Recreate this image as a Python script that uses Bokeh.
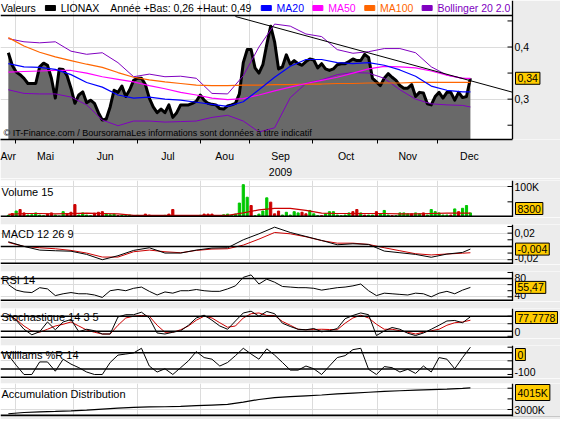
from bokeh.plotting import figure
from bokeh.models import Range1d, LinearAxis, FixedTicker, Grid, Span, Label, BoxAnnotation
from bokeh.layouts import column
from bokeh.embed import file_html
from bokeh.resources import INLINE

# ---------------- data ----------------
months = ["Avr", "Mai", "Jun", "Jul", "Aou", "Sep", "Oct", "Nov", "Dec"]
month_label_pos = [0, 9.5, 24.75, 40.75, 55.25, 69.5, 86.25, 102, 117.75]
month_tick_pos = [1.75, 16.75, 33, 49, 61.5, 77.75, 94.25, 109.5]
year_label = "2009"
ticker_name = "LIONAX"
year_low = 0.26
year_high = 0.49

# closing price (one value every sample step)
price = [0.389, 0.365, 0.352, 0.347, 0.340, 0.330, 0.330, 0.330, 0.362, 0.369,
         0.365, 0.340, 0.302, 0.358, 0.357, 0.345, 0.321, 0.292, 0.308, 0.314,
         0.293, 0.298, 0.292, 0.274, 0.260, 0.262, 0.285, 0.317, 0.313, 0.325,
         0.305, 0.318, 0.336, 0.340, 0.340, 0.328, 0.302, 0.285, 0.274, 0.281,
         0.274, 0.289, 0.265, 0.274, 0.289, 0.289, 0.289, 0.292, 0.296, 0.308,
         0.298, 0.292, 0.290, 0.289, 0.282, 0.281, 0.287, 0.289, 0.292, 0.310,
         0.370, 0.395, 0.395, 0.360, 0.350, 0.366, 0.405, 0.440, 0.410, 0.358,
         0.362, 0.385, 0.367, 0.374, 0.368, 0.365, 0.372, 0.377, 0.375, 0.360,
         0.368, 0.358, 0.355, 0.358, 0.366, 0.368, 0.368, 0.372, 0.377, 0.374,
         0.374, 0.386, 0.380, 0.340, 0.333, 0.326, 0.340, 0.349, 0.342, 0.336,
         0.326, 0.321, 0.321, 0.328, 0.305, 0.313, 0.312, 0.291, 0.289, 0.305,
         0.313, 0.302, 0.313, 0.313, 0.298, 0.313, 0.303, 0.305, 0.340]

# smooth lines, read every 4th sample (plus the last one)
ma20 = [0.368, 0.362, 0.361, 0.357, 0.347, 0.332, 0.323, 0.308, 0.302, 0.304,
        0.300, 0.298, 0.294, 0.290, 0.286, 0.295, 0.318, 0.342, 0.363, 0.376,
        0.376, 0.370, 0.368, 0.370, 0.365, 0.356, 0.344, 0.325, 0.317, 0.314, 0.314]
ma50 = [0.352, 0.353, 0.354, 0.355, 0.355, 0.350, 0.343, 0.338, 0.333, 0.326,
        0.320, 0.313, 0.308, 0.302, 0.299, 0.301, 0.308, 0.316, 0.323, 0.330,
        0.336, 0.342, 0.350, 0.358, 0.363, 0.362, 0.360, 0.354, 0.346, 0.340, 0.340]
ma100 = [0.418, 0.402, 0.390, 0.381, 0.374, 0.367, 0.361, 0.351, 0.342, 0.337,
         0.333, 0.330, 0.327, 0.326, 0.326, 0.327, 0.327, 0.328, 0.328, 0.329,
         0.329, 0.330, 0.330, 0.331, 0.331, 0.331, 0.332, 0.332, 0.332, 0.332, 0.332]
boll_up = [0.416, 0.410, 0.408, 0.410, 0.392, 0.386, 0.389, 0.370, 0.343, 0.348,
           0.343, 0.344, 0.340, 0.311, 0.310, 0.345, 0.400, 0.444, 0.440, 0.425,
           0.420, 0.395, 0.388, 0.391, 0.397, 0.397, 0.389, 0.362, 0.346, 0.340, 0.339]
boll_lo = [0.318, 0.311, 0.310, 0.310, 0.304, 0.289, 0.260, 0.249, 0.258, 0.258,
           0.256, 0.257, 0.258, 0.265, 0.269, 0.258, 0.237, 0.245, 0.303, 0.330,
           0.337, 0.347, 0.351, 0.350, 0.340, 0.318, 0.300, 0.291, 0.289, 0.288, 0.285]
trend_x = [58.0, 128.75]
trend_y = [0.4585, 0.3133]

volume_k = [6, 12, 20, 25, 14, 7, 8, 14, 7, 5,
            10, 14, 7, 4, 18, 10, 16, 41, 7, 14,
            7, 5, 13, 16, 18, 11, 8, 10, 5, 6,
            5, 7, 5, 6, 5, 10, 7, 5, 5, 5,
            6, 10, 25, 5, 5, 5, 5, 5, 5, 6,
            10, 10, 10, 5, 5, 8, 10, 6, 10, 46,
            106, 65, 38, 5, 10, 20, 63, 49, 11, 20,
            7, 16, 7, 18, 14, 16, 11, 22, 11, 5,
            5, 11, 18, 18, 7, 5, 7, 14, 18, 25,
            14, 7, 7, 7, 18, 11, 22, 7, 5, 5,
            14, 14, 11, 11, 14, 11, 14, 7, 25, 18,
            14, 7, 7, 7, 27, 18, 29, 38, 14]
volume_up = [1, 0, 1, 0, 0, 1, 1, 1, 1, 1,
             0, 0, 1, 1, 1, 0, 0, 0, 1, 1,
             1, 1, 0, 0, 0, 1, 1, 1, 0, 1,
             1, 1, 1, 1, 1, 0, 0, 1, 1, 1,
             1, 0, 0, 1, 1, 1, 1, 1, 1, 1,
             0, 0, 0, 1, 1, 1, 1, 1, 1, 1,
             1, 1, 0, 1, 1, 1, 1, 0, 0, 0,
             1, 1, 1, 1, 1, 0, 0, 1, 1, 1,
             0, 1, 1, 1, 1, 1, 1, 1, 0, 0,
             1, 0, 1, 1, 0, 1, 1, 1, 0, 1,
             1, 1, 1, 0, 1, 1, 0, 1, 1, 1,
             1, 1, 1, 0, 1, 0, 1, 1, 1]
volume_ma_k = [9, 12, 12, 11, 12, 13, 12, 11, 6, 6, 6, 6, 6, 6, 6, 14,
               24, 29, 29, 22, 13, 12, 12, 12, 12, 11, 11, 12, 13, 13, 13]
last_volume = 8300

macd = [0.007, 0.000, -0.0055, -0.0065, -0.0072, -0.012, -0.020, -0.014, -0.006, -0.002,
        -0.010, -0.010, -0.0055, -0.0025, -0.002, 0.010, 0.019, 0.029, 0.021, 0.015,
        0.009, 0.0025, 0.004, 0.003, -0.007, -0.0095, -0.012, -0.0163, -0.0115, -0.009, -0.004]
macd_signal = [0.006, 0.000, -0.002, -0.0035, -0.006, -0.010, -0.016, -0.016, -0.008, -0.0055,
               -0.008, -0.0095, -0.006, -0.004, -0.0035, 0.002, 0.011, 0.021, 0.019, 0.0145,
               0.0088, 0.0049, 0.0049, 0.003, -0.002, -0.0065, -0.011, -0.0128, -0.0114, -0.0102, -0.0095]

# oscillators, read every 2nd sample
rsi = [60, 51, 48, 47, 55, 53, 42, 45, 47, 45,
       45, 43, 39, 50, 52, 50, 54, 56, 49, 43,
       48, 46, 50, 50, 52, 50, 49, 49, 53, 58,
       72, 76, 61, 69, 64, 57, 56, 55, 55, 54,
       51, 53, 55, 56, 58, 61, 50, 42, 46, 45,
       44, 43, 46, 45, 40, 46, 49, 45, 51, 55.47]
stoch_k = [86, 64, 28, 6, 18, 57, 26, 57, 67, 18,
           28, 22, 9, 9, 77, 86, 86, 96, 73, 13,
           9, 16, 22, 44, 73, 84, 64, 41, 28, 61,
           93, 100, 80, 99, 90, 52, 39, 28, 26, 31,
           18, 22, 31, 70, 83, 93, 86, 3, 21, 35,
           28, 12, 3, 13, 28, 44, 61, 63, 54, 77.7778]
stoch_d = [86, 67, 41, 21, 16, 28, 41, 48, 57, 41,
           25, 16, 9, 9, 44, 73, 80, 83, 80, 44,
           16, 16, 26, 41, 64, 80, 73, 54, 36, 41,
           73, 90, 93, 83, 83, 59, 44, 28, 26, 27,
           28, 27, 26, 52, 73, 84, 73, 48, 28, 28,
           22, 16, 9, 16, 22, 28, 44, 54, 57, 64]
williams = [-29, -66, -100, -100, -54, -54, -88, -44, -62, -75,
            -91, -100, -100, -56, -29, -25, -21, -4, -69, -91,
            -79, -100, -75, -50, -16, -38, -44, -69, -56, -31,
            -4, -25, -44, -6, -29, -56, -84, -84, -69, -79,
            -100, -69, -38, -31, -9, -4, -81, -100, -71, -75,
            -91, -81, -96, -69, -91, -38, -44, -79, -38, 0]
accdist_k = [2800, 2860, 2890, 2910, 2940, 2975, 3020, 3060, 3100, 3120,
             3130, 3145, 3180, 3210, 3240, 3350, 3470, 3560, 3600, 3640,
             3680, 3730, 3770, 3810, 3850, 3880, 3910, 3935, 3960, 3990, 4015]

day = list(range(len(price)))
day4 = list(range(0, len(price), 4)) + [len(price) - 1]
day2 = list(range(0, len(price), 2))

# ---------------- styling / layout ----------------
GRAY = "#ECECEC"
GRIDC = "#DCDCDC"
FONT = "Liberation Sans"
BLUE, MAGENTA, ORANGE, PURPLE = "#0000FF", "#FF00FF", "#FF6600", "#8000C0"
RED, GREEN = "#CC0000", "#00C800"
FRAME_W = 512          # data area width
RIGHT_W = 48           # value-scale strip on the right
XS, XE = -2.0, 128.75  # data x-range of the plotting area
UPX = (XE - XS) / FRAME_W
XE2 = XE + RIGHT_W * UPX
xr = Range1d(XS, XE2)


def fmt(v):
    return f"{v:g}".replace(".", ",")


def base_fig(frame_h, y0, y1, top=0, bottom=0):
    p = figure(frame_width=FRAME_W + RIGHT_W, frame_height=frame_h, x_range=xr,
               y_range=Range1d(y0, y1), output_backend="svg", toolbar_location=None,
               x_axis_location=None, y_axis_location=None,
               min_border_left=0, min_border_right=0,
               min_border_top=top, min_border_bottom=bottom,
               background_fill_color="white", border_fill_color=GRAY,
               outline_line_color=None)
    p.xgrid.visible = False
    p.ygrid.visible = False
    p.add_layout(Grid(dimension=0, ticker=FixedTicker(ticks=month_tick_pos),
                      grid_line_color=GRIDC))
    return p


def clamp(p, v, frame_h, half_px):
    y0, y1 = p.y_range.start, p.y_range.end
    half = half_px * (y1 - y0) / frame_h
    return min(max(v, y0 + half), y1 - half)


def right_scale(p, frame_h, major, minor, labels=None):
    """Value scale on the right edge of the data area."""
    if labels is None:
        labels = {v: fmt(v) for v in major}
    p.add_layout(BoxAnnotation(left=XE, fill_color=GRAY, fill_alpha=1.0, line_color=None))
    p.add_layout(Span(location=XE, dimension="height", line_color="black", line_width=1.3))
    ticks = list(major) + list(minor)
    p.segment(x0=[XE - 5 * UPX] * len(ticks), x1=[XE] * len(ticks), y0=ticks, y1=ticks,
              line_color="black", line_width=1)
    for v in major:
        p.add_layout(Label(x=XE, y=clamp(p, v, frame_h, 6.5), x_offset=2, text=labels[v],
                           text_baseline="middle", text_align="left", text_font=FONT,
                           text_font_size="10.5px", text_color="black"))


def hgrid(p, ticks):
    p.add_layout(Grid(dimension=1, ticker=FixedTicker(ticks=ticks), grid_line_color=GRIDC))


def hline(p, y, w=1.5):
    p.add_layout(Span(location=y, dimension="width", line_color="black", line_width=w))


def bottom_line(p, frame_h):
    y0, y1 = p.y_range.start, p.y_range.end
    hline(p, y0 + (y1 - y0) / frame_h, 2)


def title(p, text, dy=-3):
    p.add_layout(Label(x=XS, y=p.y_range.end, x_offset=1, y_offset=dy, text=text,
                       text_baseline="top", text_font=FONT, text_font_size="11px",
                       text_color="black"))


def value_box(p, yv, text, frame_h, half_px=9):
    p.add_layout(Label(x=XE, y=clamp(p, yv, frame_h, half_px), x_offset=3, text=text,
                       text_baseline="middle", text_align="left", text_font=FONT,
                       text_font_size="10.5px", text_color="black",
                       background_fill_color="#FFCC00", border_line_color="black",
                       padding=2))


# ---------------- main price panel ----------------
PY0, PY_TOP, PY1 = 0.2226, 0.4604, 0.4892
MAIN_H = 139
p1 = base_fig(MAIN_H, PY0, PY1, top=0, bottom=32)
hgrid(p1, [0.3, 0.4])
p1.varea(x=day, y1=PY0, y2=price, fill_color="#696969")
p1.line(day, price, line_color="black", line_width=3, line_join="round")
p1.line(day4, boll_up, line_color=PURPLE, line_width=1)
p1.line(day4, boll_lo, line_color=PURPLE, line_width=1)
p1.line(day4, ma100, line_color=ORANGE, line_width=1.2)
p1.line(day4, ma50, line_color=MAGENTA, line_width=1.2)
p1.line(day4, ma20, line_color=BLUE, line_width=1.2)
p1.line(trend_x, trend_y, line_color="black", line_width=1)
hline(p1, PY_TOP, 1.5)

xax = LinearAxis(ticker=FixedTicker(ticks=month_label_pos, minor_ticks=month_tick_pos),
                 major_label_overrides=dict(zip(month_label_pos, months)),
                 bounds=(XS, XE),
                 axis_label=year_label, axis_label_standoff=3,
                 axis_label_text_font=FONT, axis_label_text_font_size="10.5px",
                 axis_label_text_font_style="normal", axis_label_text_color="black",
                 major_tick_line_color=None, major_tick_in=0, major_tick_out=0,
                 minor_tick_in=0, minor_tick_out=4, minor_tick_line_color="black",
                 axis_line_color="black", axis_line_width=1.5,
                 major_label_standoff=6, major_label_text_font=FONT,
                 major_label_text_font_size="10.5px", major_label_text_color="black")
p1.add_layout(xax, "below")

# legend row
leg_y = (PY_TOP + PY1) / 2
sc = FRAME_W / 523.0
legend_items = [
    ("Valeurs", "black", 0.5, None),
    (ticker_name, "black", 61.5, "black"),
    (f"Année +Bas: {fmt(year_low)} +Haut: {fmt(year_high)}", "black", 112, None),
    ("MA20", BLUE, 282, BLUE),
    ("MA50", MAGENTA, 334.7, MAGENTA),
    ("MA100", ORANGE, 387.7, ORANGE),
    ("Bollinger 20 2.0", PURPLE, 446.3, PURPLE),
]
rx, rc = [], []
for text, col, off, sw in legend_items:
    p1.add_layout(Label(x=XS, y=leg_y, x_offset=off * sc, text=text, text_baseline="middle",
                        text_font=FONT, text_font_size="10.5px", text_color=col))
    if sw is not None:
        rx.append(XS + (off - 10.5) * sc * UPX)
        rc.append(sw)
p1.rect(x=rx, y=[leg_y] * len(rx), width=10, height=5, width_units="screen",
        height_units="screen", fill_color=rc, line_color=rc)
p1.add_layout(Label(x=XS, y=PY0, x_offset=3, y_offset=2, text_baseline="bottom",
                    text="© IT-Finance.com / BoursoramaLes informations sont données à titre indicatif",
                    text_font=FONT, text_font_size="9px", text_color="black"))
right_scale(p1, MAIN_H, [0.3, 0.4], [0.25, 0.35, 0.45])
value_box(p1, price[-1], f"{price[-1]:.2f}".replace(".", ","), MAIN_H)

# ---------------- volume ----------------
VOL_H = 37
p2 = base_fig(VOL_H, -1000, 119500, top=2)
hgrid(p2, [100000])
p2.vbar(x=day, top=[v * 1000 for v in volume_k], bottom=0, width=0.55,
        fill_color=[GREEN if u else RED for u in volume_up],
        line_color=[GREEN if u else RED for u in volume_up])
p2.line(day4, [v * 1000 for v in volume_ma_k], line_color=RED, line_width=1.2)
bottom_line(p2, VOL_H)
title(p2, "Volume 15", -5)
right_scale(p2, VOL_H, [100000], [50000], {100000: "100K"})
value_box(p2, last_volume, f"{last_volume}", VOL_H)

# ---------------- MACD ----------------
MACD_H = 40
p3 = base_fig(MACD_H, -0.0272, 0.0330, top=7)
hgrid(p3, [-0.02, 0.02])
hline(p3, 0, 1.5)
p3.line(day4, macd_signal, line_color=RED, line_width=1)
p3.line(day4, macd, line_color="black", line_width=1)
bottom_line(p3, MACD_H)
title(p3, "MACD 12 26 9")
right_scale(p3, MACD_H, [-0.02, 0.02], [-0.01, 0, 0.01, 0.03])
value_box(p3, macd[-1], fmt(macd[-1]), MACD_H)

# ---------------- RSI ----------------
RSI_H = 30
p4 = base_fig(RSI_H, 32.3, 81.6, top=7)
hgrid(p4, [40, 60])
hline(p4, 70, 1.5)
p4.line(day2, rsi, line_color="black", line_width=1)
bottom_line(p4, RSI_H)
title(p4, "RSI 14", -2)
right_scale(p4, RSI_H, [40, 80], [50, 60, 70])
value_box(p4, rsi[-1], fmt(rsi[-1]), RSI_H)

# ---------------- Stochastic ----------------
ST_H = 30
p5 = base_fig(ST_H, -8.9, 110.8, top=7)
hgrid(p5, [50])
hline(p5, 80, 1.5)
hline(p5, 20, 1.5)
p5.line(day2, stoch_d, line_color=RED, line_width=1)
p5.line(day2, stoch_k, line_color="black", line_width=1)
bottom_line(p5, ST_H)
title(p5, "Stochastique 14 3 5", -2)
right_scale(p5, ST_H, [0], [50, 80])
value_box(p5, stoch_k[-1], fmt(stoch_k[-1]), ST_H)

# ---------------- Williams %R ----------------
WR_H = 33
p6 = base_fig(WR_H, -114.7, 6.2, top=7)
hgrid(p6, [-50])
hline(p6, -20, 1.5)
hline(p6, -80, 1.5)
p6.line(day2, williams, line_color="black", line_width=1)
bottom_line(p6, WR_H)
title(p6, "Williams %R 14", -3)
right_scale(p6, WR_H, [-100], [-50, 0])
value_box(p6, williams[-1], fmt(williams[-1]), WR_H)

# ---------------- Accumulation Distribution ----------------
AD_H = 33
p7 = base_fig(AD_H, 2671400, 4220700, top=5, bottom=3)
hgrid(p7, [3000000, 4000000])
p7.line(day4, [v * 1000 for v in accdist_k], line_color="black", line_width=1.2)
bottom_line(p7, AD_H)
title(p7, "Accumulation Distribution", -4)
right_scale(p7, AD_H, [3000000], [3500000, 4000000], {3000000: "3000K"})
value_box(p7, accdist_k[-1] * 1000, f"{accdist_k[-1]}K", AD_H)

layout = column(p1, p2, p3, p4, p5, p6, p7, spacing=0)
open("out.html", "w").write(file_html(layout, INLINE))
